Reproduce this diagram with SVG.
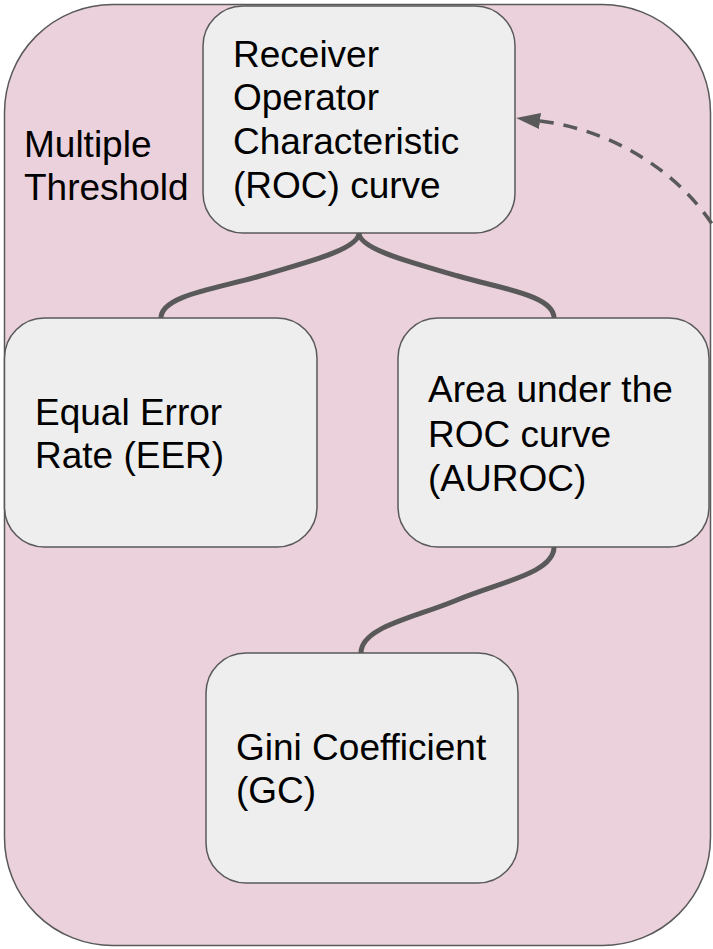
<svg xmlns="http://www.w3.org/2000/svg" width="713" height="949" viewBox="0 0 713 949">
<defs>
<style>
.container{fill:#ead1dc;stroke:#595959;stroke-width:1.5}
.node rect{fill:#eeeeee;stroke:#595959;stroke-width:1.5}
text{font-family:"Liberation Sans",Arial,sans-serif;font-size:37px;fill:#000}
.conn{fill:none;stroke:#595959;stroke-width:5}
.dash{fill:none;stroke:#595959;stroke-width:3.5;stroke-dasharray:14 10}
</style>
<marker id="arrow" markerUnits="userSpaceOnUse" viewBox="0 0 24 16" markerWidth="24" markerHeight="16" refX="0" refY="8" orient="auto">
<path d="M0,0 L24,8 L0,16 z" fill="#595959"/>
</marker>
</defs>
<g id="container">
<rect class="container" x="4.5" y="4.5" width="706" height="941" rx="108" ry="108"/>
<text x="24" y="157">Multiple</text>
<text x="24" y="200">Threshold</text>
</g>
<g id="connectors">
<path class="conn" d="M359,233 C359,250 300,264 260,276 C220,288 161,295 161,318"/>
<path class="conn" d="M359,233 C359,250 418,264 458,276 C498,288 554,295 554,318"/>
<path class="conn" d="M554,547 C554,573 500,582 457,600 C414,618 361,627 361,653"/>
<path class="dash" d="M724,244 C692,182 622,131 540,121" marker-end="url(#arrow)"/>
</g>
<g id="roc" class="node">
<rect x="203" y="6" width="312" height="227" rx="40" ry="40"/>
<text x="233" y="67">Receiver</text>
<text x="233" y="110">Operator</text>
<text x="233" y="154">Characteristic</text>
<text x="233" y="198">(ROC) curve</text>
</g>
<g id="eer" class="node">
<rect x="4.5" y="318" width="312.5" height="229" rx="40" ry="40"/>
<text x="35" y="425">Equal Error</text>
<text x="35" y="468">Rate (EER)</text>
</g>
<g id="auroc" class="node">
<rect x="398" y="318" width="311" height="229" rx="40" ry="40"/>
<text x="428" y="402">Area under the</text>
<text x="428" y="447">ROC curve</text>
<text x="428" y="491">(AUROC)</text>
</g>
<g id="gini" class="node">
<rect x="206" y="653" width="312" height="230" rx="40" ry="40"/>
<text x="236" y="760">Gini Coefficient</text>
<text x="236" y="803">(GC)</text>
</g>
</svg>
